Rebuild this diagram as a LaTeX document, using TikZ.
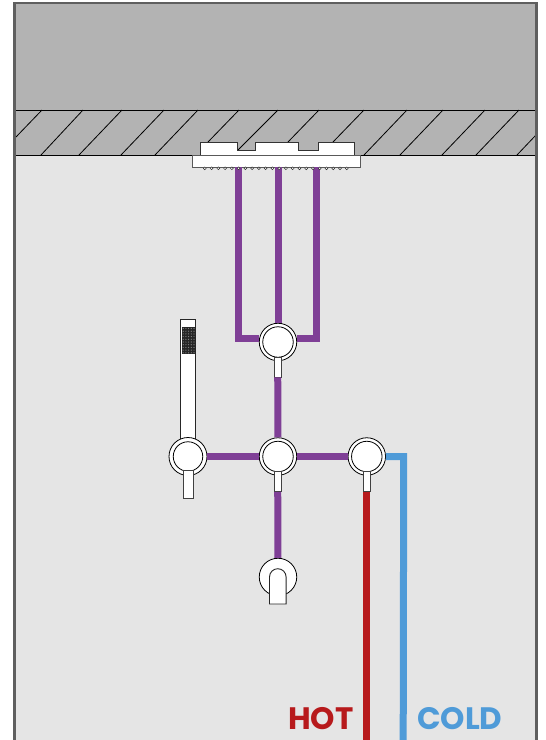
\documentclass[tikz,border=0pt]{standalone}
\usepackage{fontspec}
\newfontfamily\tagfont{Poppins}
\definecolor{wallgray}{HTML}{B3B3B3}
\definecolor{roomgray}{HTML}{E5E5E5}
\definecolor{framegray}{HTML}{5F5F5F}
\definecolor{pipepurple}{HTML}{7F3F96}
\definecolor{pipered}{HTML}{B71A1C}
\definecolor{pipeblue}{HTML}{4F9BD8}
\tikzset{
  pipe/.style={line width=7pt, line join=miter},
  mixer/.style={circle, draw=black, fill=white, line width=.8pt, minimum size=37.5pt, inner sep=0pt},
  disc/.style={circle, draw=black, fill=white, line width=.8pt, minimum size=30.5pt, inner sep=0pt},
  handle/.style={rectangle, draw=black!75, fill=white, line width=.9pt, inner sep=0pt, minimum width=7pt, minimum height=20pt},
  tag/.style={font=\tagfont\bfseries\fontsize{31}{33}\selectfont, inner sep=0pt},
}
\begin{document}
\begin{tikzpicture}[x=1pt, y=-1pt]
  \useasboundingbox (0, 0) rectangle (546, 740);
  \fill[roomgray] (15, 155) rectangle (537, 740);
  \fill[wallgray] (15, 3) rectangle (537, 155);
  \foreach \xa/\ya/\xb/\yb in {42/110/16/137, 83/110/41/155, 122/110/79/155, 164/110/121/155, 198/110/155/155,
    239/110/208/142, 278/110/238/150, 319/110/288/142, 364/110/333/142, 407/110/364/155,
    443/110/400/155, 485/110/442/155, 519/110/476/155, 536/135/517/155}
    \draw[line width=.8pt] (\xa, \ya) -- (\xb, \yb);
  \draw[line width=1pt] (15, 110) -- (537, 110) (15, 155) -- (537, 155);
  \draw[framegray, line width=2.7pt] (14.8, 740) -- (14.8, 3) -- (536.7, 3) -- (536.7, 740);

  % shower head
  \draw[draw=black!80, fill=white, line width=.9pt] (200, 155) -- (200, 142) -- (237, 142) -- (237, 150) -- (255, 150)
    -- (255, 142) -- (298, 142) -- (298, 150) -- (318, 150) -- (318, 142) -- (354, 142) -- (354, 155) -- cycle;
  \node[rectangle, draw=black!65, fill=white, line width=1pt, inner sep=0pt, minimum width=168pt, minimum height=12pt] (plate) at (276.5, 161) {};
  \coordinate (dropA) at (238, 167);
  \coordinate (dropB) at (278, 167);
  \coordinate (dropC) at (316, 167);
  \coordinate (elbowA) at (238, 338);
  \coordinate (elbowC) at (316, 338);

  % hand shower
  \node[rectangle, draw=black!85, fill=white, line width=1pt, inner sep=0pt, minimum width=15pt, minimum height=124pt] (wand) at (188.3, 381) {};
  \fill[black!85] (181.5, 327) rectangle (195.5, 353.5);
  \foreach \i in {0, ..., 4}
    \foreach \j in {0, ..., 9}
      \fill[black!45] (183.2 + 2.7*\i, 328.5 + 2.7*\j) circle (.6pt);

  % valves
  \node[mixer, minimum size=38pt] (mixLeft) at (188, 456.5) {};
  \node[disc, minimum size=29.5pt] (discLeft) at (mixLeft) {};
  \node[handle, minimum width=10pt, minimum height=28pt] (handleLeft) at (188, 484.5) {};
  \node[mixer] (mixTop) at (278, 342) {};
  \node[disc] (discTop) at (mixTop) {};
  \node[handle] (handleTop) at (277.7, 367) {};
  \node[mixer] (mixMid) at (278, 456.5) {};
  \node[disc] (discMid) at (mixMid) {};
  \node[handle] (handleMid) at (277.7, 481.3) {};
  \node[mixer] (mixRight) at (366.8, 456.5) {};
  \node[disc] (discRight) at (mixRight) {};
  \node[handle] (handleRight) at (366.5, 481.3) {};
  \node[mixer] (mixLow) at (278, 577) {};
  \draw[draw=black!85, fill=white, line width=.9pt] (269.5, 604) -- (269.5, 577) arc[start angle=180, end angle=0, radius=8.3pt] -- (286.1, 604) -- cycle;

  \coordinate (hotEnd) at (366.5, 741);
  \coordinate (coldCorner) at (403.7, 456.5);
  \coordinate (coldEnd) at (403.2, 741);

  \draw[pipe, pipepurple] (dropA) -- (elbowA) -- (mixTop.west |- elbowA);
  \draw[pipe, pipepurple] (dropC) -- (elbowC) -- (mixTop.east |- elbowC);
  \draw[pipe, pipepurple] (dropB) -- (mixTop);
  \draw[pipe, pipepurple] (handleTop) -- (mixMid);
  \draw[pipe, pipepurple] (mixLeft) -- (mixMid);
  \draw[pipe, pipepurple] (mixMid) -- (mixRight);
  \draw[pipe, pipepurple] (handleMid) -- (mixLow);
  \draw[pipe, pipered] (handleRight) -- (hotEnd);
  \draw[pipe, pipeblue] (mixRight) -- (coldCorner) -- (coldEnd);

  \foreach \n in {0, ..., 21}
    \draw[draw=black!80, fill=white, line width=.5pt] (204.8 + 6.76*\n, 168.3) circle (1.4pt);

  \node[tag, pipered, anchor=base west] (hotTag) at (288, 729.5) {HOT};
  \node[tag, pipeblue, anchor=base west] (coldTag) at (417, 729.5) {COLD};
\end{tikzpicture}
\end{document}
